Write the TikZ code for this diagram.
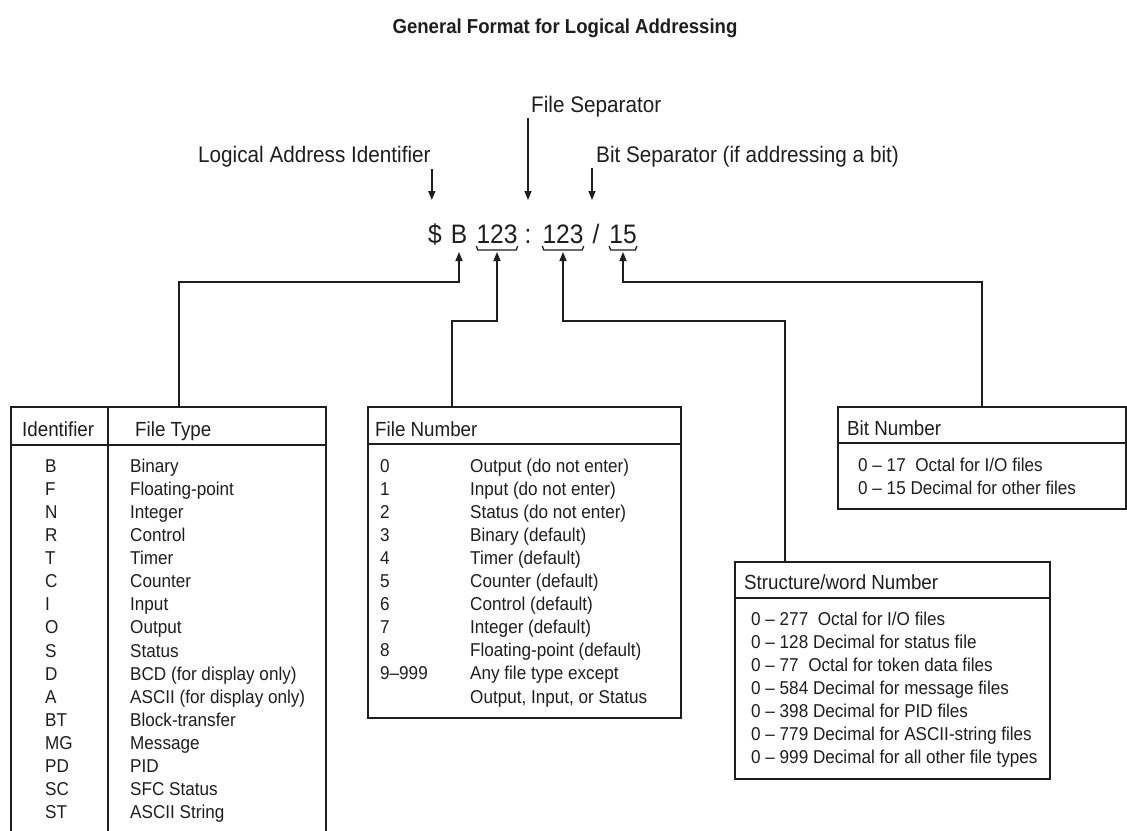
\documentclass[tikz,border=0pt]{standalone}
\usepackage{fontspec}
\setmainfont[FakeStretch=0.92]{Liberation Sans}
\usetikzlibrary{arrows.meta,calc}
\definecolor{ink}{HTML}{1E1E1E}
\begin{document}
\begin{tikzpicture}[x=1pt,y=-1pt,
  tt/.style={anchor=base west, inner sep=0pt, text=ink, font=\fontsize{18.6}{22}\selectfont},
  hd/.style={tt, font=\fontsize{20.4}{24}\selectfont},
  toplbl/.style={tt, font=\fontsize{22.5}{26}\selectfont},
  fm/.style={anchor=base, inner sep=0pt, text=ink, font=\fontsize{26.7}{30}\selectfont},
  ttl/.style={anchor=base, inner sep=0pt, text=ink, font=\bfseries\fontsize{20.2}{24}\selectfont},
  box/.style={draw=ink, line width=1.5pt, anchor=north west, inner sep=0pt},
  conn/.style={draw=ink, line width=1.5pt},
  brc/.style={draw=ink, line width=1.3pt},
  arr/.style={conn, -{Triangle[length=9pt,width=7pt]}}]
\useasboundingbox (0,0) rectangle (1127,830);
\fill[white] (0,0) rectangle (1127,830);

% title
\node[ttl] (title) at (565,33) {General Format for Logical Addressing};

% top labels
\node[toplbl] (lai) at (198,162) {Logical Address Identifier};
\node[toplbl] (fs) at (531,112) {File Separator};
\node[toplbl] (bs) at (596,162) {Bit Separator (if addressing a bit)};

% formula
\node[fm] (dol) at (435,243) {\$};
\node[fm] (B) at (459,243) {B};
\node[fm] (n1) at (497,243) {123};
\node[fm] (col) at (528,243) {:};
\node[fm] (n2) at (563,243) {123};
\node[fm] (sl) at (596,243) {/};
\node[fm] (n3) at (623,243) {15};

% arrows from labels
\draw[arr] ($(lai.base east)+(1,7)$) -- ($(lai.base east)+(1,38)$);
\draw[arr] ($(fs.base west)+(-3,6)$) -- ($(fs.base west)+(-3,88)$);
\draw[arr] ($(bs.base west)+(-4,6)$) -- ($(bs.base west)+(-4,38)$);

% braces
\foreach \n in {n1,n2,n3}{
  \draw[brc] ([shift={(0,3)}]\n.base west) -- ([shift={(1.5,7)}]\n.base west)
     -- ([shift={(-1.5,7)}]\n.base east) -- ([shift={(0,3)}]\n.base east);
}

% boxes
\node[box, minimum width=315pt, minimum height=440pt] (ltab) at (10,406) {};
\node[box, minimum width=313pt, minimum height=311pt] (fbox) at (367,406) {};
\node[box, minimum width=288pt, minimum height=102pt] (bbox) at (837,406) {};
\node[box, minimum width=315pt, minimum height=217pt] (sbox) at (734,561) {};

% header separators
\draw[conn] ($(ltab.north west)+(0,39)$) -- ($(ltab.north east)+(0,39)$);
\draw[conn] ($(ltab.north west)+(98,0)$) -- ($(ltab.south west)+(98,0)$);
\draw[conn] ($(fbox.north west)+(0,38)$) -- ($(fbox.north east)+(0,38)$);
\draw[conn] ($(bbox.north west)+(0,37)$) -- ($(bbox.north east)+(0,37)$);
\draw[conn] ($(sbox.north west)+(0,37)$) -- ($(sbox.north east)+(0,37)$);

% headers
\node[hd] (hid) at (22,436) {Identifier};
\node[hd] (hft) at (135,436) {File Type};
\node[hd] (hfn) at (375,436) {File Number};
\node[hd] (hbn) at (847,435) {Bit Number};
\node[hd] (hsn) at (744,589) {Structure/word Number};

% left table rows
\foreach \a/\b [count=\i from 0] in {B/Binary, F/Floating-point, N/Integer, R/Control,
  T/Timer, C/Counter, I/Input, O/Output, S/Status, D/BCD (for display only),
  A/ASCII (for display only), BT/Block-transfer, MG/Message, PD/PID,
  SC/SFC Status, ST/ASCII String}{
  \node[tt] (lid\i) at (45,472+23.13*\i) {\a};
  \node[tt] (lty\i) at (130,472+23.13*\i) {\b};
}

% file number rows
\foreach \a/\b [count=\i from 0] in {0/Output (do not enter), 1/Input (do not enter),
  2/Status (do not enter), 3/Binary (default), 4/Timer (default), 5/Counter (default),
  6/Control (default), 7/Integer (default), 8/Floating-point (default),
  9–999/Any file type except}{
  \node[tt] (fnn\i) at (380,472+23.1*\i) {\a};
  \node[tt] (fnt\i) at (470,472+23.1*\i) {\b};
}
\node[tt] (fnt10) at (470,472+23.1*10) {Output, Input, or Status};

% bit number rows
\node[tt] (bn0) at (858,471) {0 – 17\ \ Octal for I/O files};
\node[tt] (bn1) at (858,494) {0 – 15 Decimal for other files};

% structure rows
\foreach \t [count=\i from 0] in {0 – 277\ \ Octal for I/O files,
  0 – 128 Decimal for status file, 0 – 77\ \ Octal for token data files,
  0 – 584 Decimal for message files, 0 – 398 Decimal for PID files,
  0 – 779 Decimal for ASCII-string files, 0 – 999 Decimal for all other file types}{
  \node[tt] (sn\i) at (751,625+23.1*\i) {\t};
}

% connectors from boxes to address parts
\draw[arr] ($(ltab.north west)+(169,0)$) |- ($(B.base)+(0,39)$) -- ($(B.base)+(0,9)$);
\draw[arr] ($(fbox.north west)+(85,0)$) |- ($(n1.base)+(0,78)$) -- ($(n1.base)+(0,9)$);
\draw[arr] ($(sbox.north west)+(51,0)$) |- ($(n2.base)+(0,78)$) -- ($(n2.base)+(0,9)$);
\draw[arr] ($(bbox.north west)+(145,0)$) |- ($(n3.base)+(0,39)$) -- ($(n3.base)+(0,9)$);
\end{tikzpicture}
\end{document}
